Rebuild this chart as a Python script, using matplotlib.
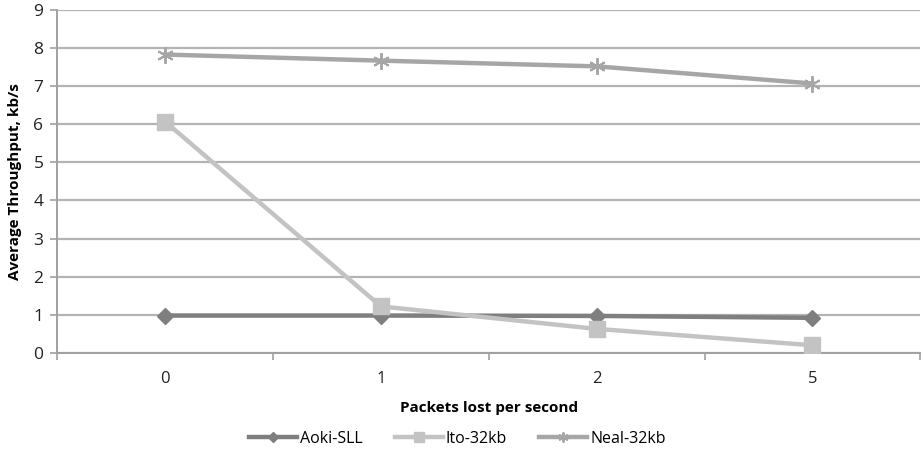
import matplotlib
matplotlib.use("Agg")
import matplotlib.pyplot as plt
import numpy as np

# Throughput vs packet loss
categories = ["0", "1", "2", "5"]
aoki = [0.98, 0.98, 0.97, 0.92]
ito = [6.07, 1.22, 0.63, 0.20]
neal = [7.83, 7.67, 7.52, 7.07]

plt.rcParams['font.family'] = ['Open Sans', 'DejaVu Sans']

fig = plt.figure(figsize=(9.24, 4.53), dpi=100)
ax = fig.add_axes([0.062, 0.221, 0.934, 0.757])

x = np.arange(len(categories)) + 0.5
ax.plot(x, aoki, color='#7f7f7f', lw=3.2, marker='D', ms=8, label='Aoki-SLL', zorder=3)
ax.plot(x, ito, color='#c3c3c3', lw=3.2, marker='s', ms=11, label='Ito-32kb', zorder=3)
ax.plot(x, neal, color='#a6a6a6', lw=3.2, marker=(6, 2, 0), ms=12, mew=1.4,
        label='Neal-32kb', zorder=3)

ax.set_xlim(0, len(categories))
ax.set_ylim(0, 9)
ax.set_yticks(range(10))
ax.yaxis.grid(True, color='#b3b3b3', lw=1.6)
ax.set_axisbelow(True)

# category ticks sit between groups, labels under the centres
ax.set_xticks(np.arange(len(categories) + 1))
ax.set_xticklabels([])
ax.set_xticks(x, minor=True)
ax.set_xticklabels(categories, minor=True)
ax.tick_params(axis='x', which='major', direction='out', length=5, color='#a0a0a0', width=1.2)
ax.tick_params(axis='x', which='minor', length=0, pad=13, labelsize=12, labelcolor='#222222')
ax.tick_params(axis='y', direction='out', length=5, color='#a0a0a0', width=1.2,
               labelsize=12.5, labelcolor='#222222', pad=5)

for s in ['top', 'right']:
    ax.spines[s].set_visible(False)
for s in ['left', 'bottom']:
    ax.spines[s].set_color('#a0a0a0')
    ax.spines[s].set_linewidth(1.4)

ax.set_xlabel('Packets lost per second', fontsize=11, fontweight='bold', labelpad=10)
ax.set_ylabel('Average Throughput, kb/s', fontsize=11, fontweight='bold', labelpad=8)

fig.legend(loc='center', bbox_to_anchor=(0.495, 0.031), ncol=3, frameon=False,
           fontsize=11.5, handlelength=3.0, columnspacing=2.0, handletextpad=0.2, markerscale=0.6)

fig.savefig('out.png', dpi=100)
